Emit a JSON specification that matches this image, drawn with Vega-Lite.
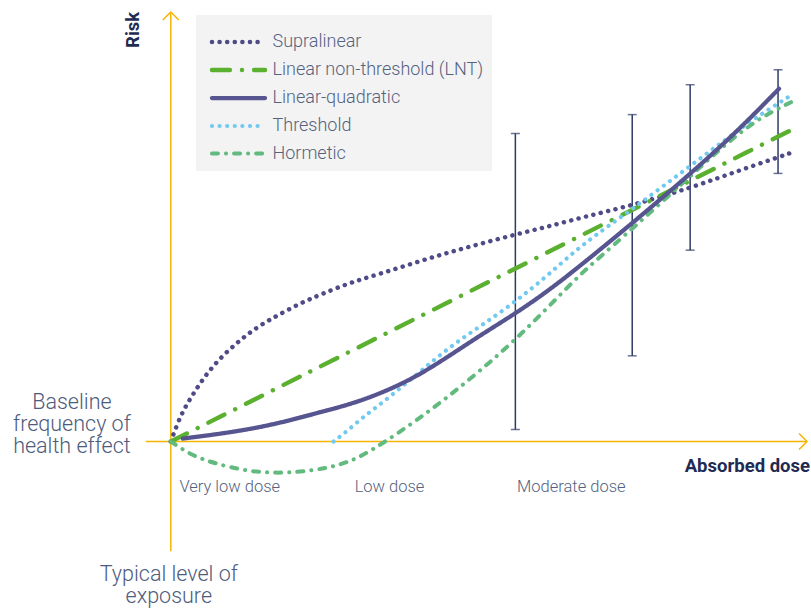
{
  "$schema": "https://vega.github.io/schema/vega-lite/v6.json",
  "width": 811,
  "height": 608,
  "autosize": {"type": "fit", "contains": "padding"},
  "padding": 0,
  "background": "#ffffff",
  "config": {"view": {"stroke": null}, "font": "Roboto"},
  "datasets": {
    "curves": [
      {"model": "Supralinear", "dose": 0, "risk": 0},
      {"model": "Supralinear", "dose": 0.07, "risk": 0.19},
      {"model": "Supralinear", "dose": 0.14, "risk": 0.34},
      {"model": "Supralinear", "dose": 0.22, "risk": 0.47},
      {"model": "Supralinear", "dose": 0.31, "risk": 0.61},
      {"model": "Supralinear", "dose": 0.41, "risk": 0.74},
      {"model": "Supralinear", "dose": 0.52, "risk": 0.86},
      {"model": "Supralinear", "dose": 0.64, "risk": 0.97},
      {"model": "Supralinear", "dose": 0.76, "risk": 1.07},
      {"model": "Supralinear", "dose": 0.9, "risk": 1.17},
      {"model": "Supralinear", "dose": 1.06, "risk": 1.26},
      {"model": "Supralinear", "dose": 1.28, "risk": 1.38},
      {"model": "Supralinear", "dose": 1.51, "risk": 1.48},
      {"model": "Supralinear", "dose": 1.81, "risk": 1.6},
      {"model": "Supralinear", "dose": 2.12, "risk": 1.69},
      {"model": "Supralinear", "dose": 2.46, "risk": 1.8},
      {"model": "Supralinear", "dose": 2.79, "risk": 1.9},
      {"model": "Supralinear", "dose": 3.12, "risk": 1.99},
      {"model": "Supralinear", "dose": 3.46, "risk": 2.08},
      {"model": "Supralinear", "dose": 3.79, "risk": 2.16},
      {"model": "Supralinear", "dose": 4.12, "risk": 2.25},
      {"model": "Supralinear", "dose": 4.62, "risk": 2.37},
      {"model": "Supralinear", "dose": 5.22, "risk": 2.55},
      {"model": "Supralinear", "dose": 5.72, "risk": 2.73},
      {"model": "Supralinear", "dose": 6.22, "risk": 2.9},
      {"model": "Linear non-threshold (LNT)", "dose": 0, "risk": 0},
      {"model": "Linear non-threshold (LNT)", "dose": 3.14, "risk": 1.58},
      {"model": "Linear non-threshold (LNT)", "dose": 6.28, "risk": 3.16},
      {"model": "Threshold", "dose": 1.63, "risk": 0},
      {"model": "Threshold", "dose": 1.76, "risk": 0.1},
      {"model": "Threshold", "dose": 1.93, "risk": 0.25},
      {"model": "Threshold", "dose": 2.12, "risk": 0.39},
      {"model": "Threshold", "dose": 2.46, "risk": 0.67},
      {"model": "Threshold", "dose": 2.79, "risk": 0.95},
      {"model": "Threshold", "dose": 3.12, "risk": 1.17},
      {"model": "Threshold", "dose": 3.46, "risk": 1.41},
      {"model": "Threshold", "dose": 3.79, "risk": 1.68},
      {"model": "Threshold", "dose": 4.12, "risk": 1.98},
      {"model": "Threshold", "dose": 4.62, "risk": 2.33},
      {"model": "Threshold", "dose": 5.22, "risk": 2.78},
      {"model": "Threshold", "dose": 5.82, "risk": 3.23},
      {"model": "Threshold", "dose": 6.19, "risk": 3.46},
      {"model": "Hormetic", "dose": 0, "risk": 0},
      {"model": "Hormetic", "dose": 0.21, "risk": -0.14},
      {"model": "Hormetic", "dose": 0.44, "risk": -0.22},
      {"model": "Hormetic", "dose": 0.77, "risk": -0.3},
      {"model": "Hormetic", "dose": 1.11, "risk": -0.32},
      {"model": "Hormetic", "dose": 1.44, "risk": -0.29},
      {"model": "Hormetic", "dose": 1.67, "risk": -0.24},
      {"model": "Hormetic", "dose": 1.87, "risk": -0.17},
      {"model": "Hormetic", "dose": 2.12, "risk": -0.02},
      {"model": "Hormetic", "dose": 2.46, "risk": 0.21},
      {"model": "Hormetic", "dose": 2.79, "risk": 0.46},
      {"model": "Hormetic", "dose": 3.12, "risk": 0.73},
      {"model": "Hormetic", "dose": 3.46, "risk": 1.03},
      {"model": "Hormetic", "dose": 3.79, "risk": 1.36},
      {"model": "Hormetic", "dose": 4.12, "risk": 1.7},
      {"model": "Hormetic", "dose": 4.39, "risk": 1.93},
      {"model": "Hormetic", "dose": 4.96, "risk": 2.44},
      {"model": "Hormetic", "dose": 5.49, "risk": 2.93},
      {"model": "Hormetic", "dose": 5.86, "risk": 3.23},
      {"model": "Hormetic", "dose": 6.22, "risk": 3.41},
      {"model": "Linear-quadratic", "dose": 0.12, "risk": 0.03},
      {"model": "Linear-quadratic", "dose": 0.44, "risk": 0.07},
      {"model": "Linear-quadratic", "dose": 0.77, "risk": 0.12},
      {"model": "Linear-quadratic", "dose": 1.11, "risk": 0.19},
      {"model": "Linear-quadratic", "dose": 1.44, "risk": 0.28},
      {"model": "Linear-quadratic", "dose": 1.79, "risk": 0.37},
      {"model": "Linear-quadratic", "dose": 2.12, "risk": 0.49},
      {"model": "Linear-quadratic", "dose": 2.46, "risk": 0.65},
      {"model": "Linear-quadratic", "dose": 2.79, "risk": 0.86},
      {"model": "Linear-quadratic", "dose": 3.12, "risk": 1.08},
      {"model": "Linear-quadratic", "dose": 3.46, "risk": 1.29},
      {"model": "Linear-quadratic", "dose": 3.79, "risk": 1.52},
      {"model": "Linear-quadratic", "dose": 4.12, "risk": 1.78},
      {"model": "Linear-quadratic", "dose": 4.62, "risk": 2.19},
      {"model": "Linear-quadratic", "dose": 5.22, "risk": 2.7},
      {"model": "Linear-quadratic", "dose": 5.69, "risk": 3.13},
      {"model": "Linear-quadratic", "dose": 6.09, "risk": 3.54}
    ],
    "bars": [
      {"dose": 3.45, "risk": 0.12, "risk2": 3.09},
      {"dose": 4.62, "risk": 0.86, "risk2": 3.28},
      {"dose": 5.2, "risk": 1.92, "risk2": 3.58},
      {"dose": 6.08, "risk": 2.69, "risk2": 3.73}
    ],
    "axes": [
      {"part": "xaxis", "o": 1, "dose": -0.25, "risk": 0},
      {"part": "xaxis", "o": 2, "dose": 6.37, "risk": 0},
      {"part": "yaxis", "o": 1, "dose": 0, "risk": -1.1},
      {"part": "yaxis", "o": 2, "dose": 0, "risk": 4.31},
      {"part": "xarrow", "o": 1, "dose": 6.29, "risk": 0.08},
      {"part": "xarrow", "o": 2, "dose": 6.37, "risk": 0},
      {"part": "xarrow", "o": 3, "dose": 6.29, "risk": -0.08},
      {"part": "yarrow", "o": 1, "dose": -0.08, "risk": 4.23},
      {"part": "yarrow", "o": 2, "dose": 0, "risk": 4.31},
      {"part": "yarrow", "o": 3, "dose": 0.08, "risk": 4.23}
    ],
    "doseLabels": [
      {"label": "Very low dose", "dose": 0.59, "risk": -0.46},
      {"label": "Low dose", "dose": 2.19, "risk": -0.46},
      {"label": "Moderate dose", "dose": 4.01, "risk": -0.46}
    ],
    "bigLabels": [
      {"label": ["Baseline", "frequency of", "health effect"], "dose": -0.99, "risk": 0.5},
      {"label": ["Typical level of", "exposure"], "dose": -0.02, "risk": -1.23}
    ],
    "titles": [
      {"label": "Absorbed dose", "dose": 6.4, "risk": -0.25}
    ],
    "ytitle": [
      {"label": "Risk", "dose": -0.38, "risk": 4.13}
    ]
  },
  "encoding": {
    "x": {"field": "dose", "type": "quantitative", "axis": null, "scale": {"domain": [-1.71, 6.4], "nice": false, "zero": false}},
    "y": {"field": "risk", "type": "quantitative", "axis": null, "scale": {"domain": [-1.65, 4.43], "nice": false, "zero": false}}
  },
  "layer": [
    {
      "data": {"name": "axes"},
      "mark": {"type": "line", "color": "#f6b400", "strokeWidth": 1.5},
      "encoding": {
        "detail": {"field": "part"},
        "order": {"field": "o", "type": "quantitative"}
      }
    },
    {
      "data": {"name": "bars"},
      "mark": {"type": "rule", "color": "#2e3b66", "strokeWidth": 1.5},
      "encoding": {"y2": {"field": "risk2"}}
    },
    {
      "data": {"name": "bars"},
      "mark": {"type": "tick", "color": "#2e3b66", "orient": "horizontal", "size": 9, "thickness": 1.5},
      "encoding": {}
    },
    {
      "data": {"name": "bars"},
      "mark": {"type": "tick", "color": "#2e3b66", "orient": "horizontal", "size": 9, "thickness": 1.5},
      "encoding": {"y": {"field": "risk2", "type": "quantitative"}}
    },
    {
      "data": {"name": "curves"},
      "mark": {"type": "line", "interpolate": "basis", "strokeCap": "round"},
      "encoding": {
        "color": {
          "field": "model", "type": "nominal",
          "scale": {
            "domain": ["Supralinear", "Linear non-threshold (LNT)", "Linear-quadratic", "Threshold", "Hormetic"],
            "range": ["#4f4b86", "#5bb12f", "#575590", "#72c9ef", "#62ba7f"]
          },
          "legend": {
            "title": null,
            "orient": "none",
            "legendX": 196,
            "legendY": 15,
            "fillColor": "#f3f3f3",
            "padding": 8.5,
            "symbolType": "M-1.66,0H1.66",
            "symbolSize": 1024,
            "symbolOffset": 15.5,
            "symbolStrokeWidth": 4,
            "labelFont": "Roboto",
            "labelFontSize": 18,
            "labelFontWeight": 300,
            "labelColor": "#55627f",
            "labelOffset": 15.5,
            "labelLimit": 300,
            "rowPadding": 0,
            "encoding": {"symbols": {"strokeCap": {"value": "round"}}}
          }
        },
        "strokeDash": {
          "field": "model", "type": "nominal",
          "scale": {
            "domain": ["Supralinear", "Linear non-threshold (LNT)", "Linear-quadratic", "Threshold", "Hormetic"],
            "range": [[0.1, 7.5], [18, 12, 0.1, 12], [1, 0], [0.1, 7.5], [6, 8, 0.1, 8]]
          },
          "legend": {
            "title": null,
            "orient": "none",
            "legendX": 196,
            "legendY": 15,
            "fillColor": "#f3f3f3",
            "padding": 8.5,
            "symbolType": "M-1.66,0H1.66",
            "symbolSize": 1024,
            "symbolOffset": 15.5,
            "symbolStrokeWidth": 4,
            "labelFont": "Roboto",
            "labelFontSize": 18,
            "labelFontWeight": 300,
            "labelColor": "#55627f",
            "labelOffset": 15.5,
            "labelLimit": 300,
            "rowPadding": 0,
            "encoding": {"symbols": {"strokeCap": {"value": "round"}}}
          }
        },
        "strokeWidth": {
          "field": "model", "type": "nominal", "legend": null,
          "scale": {
            "domain": ["Supralinear", "Linear non-threshold (LNT)", "Linear-quadratic", "Threshold", "Hormetic"],
            "range": [4.5, 4, 4.5, 4.5, 4.5]
          }
        }
      }
    },
    {
      "data": {"name": "doseLabels"},
      "mark": {"type": "text", "font": "Roboto", "fontWeight": 300, "fontSize": 16.5, "color": "#55627f", "align": "center", "baseline": "middle"},
      "encoding": {"text": {"field": "label"}}
    },
    {
      "data": {"name": "bigLabels"},
      "mark": {"type": "text", "font": "Roboto", "fontWeight": 300, "fontSize": 21.5, "lineHeight": 22, "color": "#4d5b7c", "align": "center", "baseline": "top"},
      "encoding": {"text": {"field": "label"}}
    },
    {
      "data": {"name": "titles"},
      "mark": {"type": "text", "font": "Roboto", "fontWeight": "bold", "fontSize": 18.5, "color": "#1f2b52", "align": "right", "baseline": "middle"},
      "encoding": {"text": {"field": "label"}}
    },
    {
      "data": {"name": "ytitle"},
      "mark": {"type": "text", "font": "Roboto", "fontWeight": "bold", "fontSize": 18.5, "color": "#1f2b52", "align": "center", "baseline": "middle", "angle": 270},
      "encoding": {"text": {"field": "label"}}
    }
  ]
}
